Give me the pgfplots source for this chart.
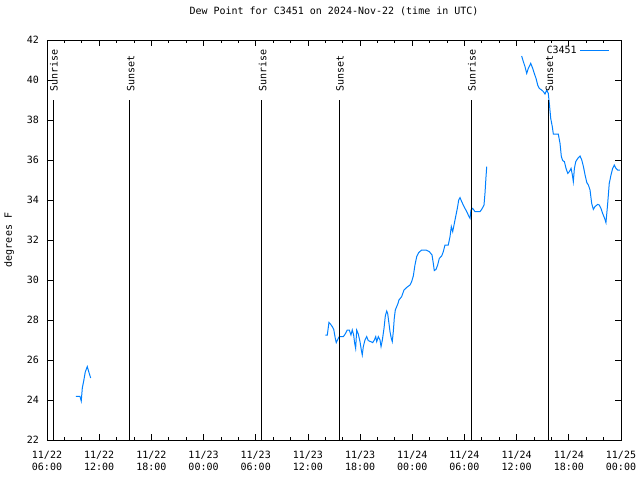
\documentclass[border=0pt]{standalone}
\usepackage{pgfplots}
\pgfplotsset{compat=1.18}
\usepackage{pgfplotstable}
\usepackage{fontspec}
\setmainfont{DejaVu Sans Mono}
\setmonofont{DejaVu Sans Mono}
\definecolor{dewblue}{RGB}{0,128,255}

\pgfplotstableread{
h dp
3.33 24.18
3.79 24.18
3.94 23.95
4.06 24.60
4.22 24.95
4.40 25.40
4.63 25.67
4.83 25.37
5.02 25.10
nan nan
32.00 27.25
32.23 27.25
32.42 27.88
32.62 27.78
32.80 27.67
32.97 27.53
33.15 27.08
33.26 26.87
33.43 27.03
33.61 27.17
34.07 27.17
34.26 27.28
34.53 27.50
34.76 27.50
34.95 27.25
35.10 27.50
35.26 27.25
35.38 26.83
35.49 26.58
35.61 27.50
35.79 27.30
35.99 26.92
36.14 26.50
36.25 26.25
36.37 26.67
36.56 27.00
36.76 27.17
36.94 26.97
37.22 26.92
37.45 26.87
37.64 27.00
37.80 27.17
37.91 26.92
38.10 27.17
38.29 27.00
38.41 26.67
38.56 27.00
38.75 27.58
38.90 28.20
39.06 28.45
39.17 28.33
39.32 27.83
39.44 27.42
39.59 27.08
39.70 26.92
39.82 27.42
39.93 28.08
40.05 28.50
40.21 28.67
40.36 28.83
40.47 29.00
40.78 29.17
41.05 29.50
41.36 29.63
41.74 29.75
41.93 29.92
42.12 30.20
42.31 30.75
42.51 31.17
42.74 31.37
43.08 31.50
43.58 31.50
43.96 31.42
44.27 31.25
44.42 30.83
44.53 30.47
44.73 30.53
44.92 30.75
45.11 31.08
45.38 31.20
45.57 31.42
45.76 31.75
46.14 31.75
46.34 32.17
46.49 32.67
46.65 32.42
46.80 32.75
46.99 33.17
47.18 33.58
47.34 34.00
47.49 34.12
47.68 33.92
47.95 33.67
48.26 33.42
48.44 33.25
48.64 33.08
48.75 33.50
48.95 33.58
49.21 33.42
49.79 33.42
49.98 33.53
50.25 33.75
50.36 34.33
50.48 35.17
50.56 35.67
nan nan
54.58 41.20
54.77 40.92
54.96 40.67
55.16 40.33
55.34 40.58
55.62 40.83
55.85 40.58
56.03 40.33
56.23 40.08
56.42 39.75
56.61 39.58
56.88 39.50
57.07 39.42
57.26 39.30
57.46 39.50
57.64 39.33
57.76 38.83
57.92 38.08
58.10 37.67
58.22 37.30
58.79 37.30
58.99 36.83
59.14 36.17
59.30 35.97
59.49 35.92
59.68 35.58
59.88 35.33
60.06 35.42
60.26 35.58
60.41 35.25
60.52 34.92
60.64 35.58
60.80 35.92
61.03 36.08
61.29 36.20
61.49 36.00
61.68 35.67
61.87 35.25
62.07 34.87
62.25 34.75
62.44 34.50
62.63 33.83
62.82 33.53
63.01 33.67
63.32 33.78
63.50 33.75
63.70 33.58
63.89 33.33
64.12 33.08
64.27 32.87
64.47 33.83
64.65 34.83
64.85 35.25
65.04 35.58
65.23 35.75
65.42 35.58
65.62 35.50
65.88 35.50
}\dewdata

\begin{document}
\begin{tikzpicture}
\useasboundingbox (-35.25pt,-30pt) rectangle (444.75pt,330pt);
\begin{axis}[
  scale only axis,
  width=430.5pt, height=300pt,
  at={(0,0)}, anchor=south west,
  xmin=0, xmax=66, ymin=22, ymax=42,
  xtick={0,6,...,66},
  xticklabels={{11/22\\06:00},{11/22\\12:00},{11/22\\18:00},{11/23\\00:00},{11/23\\06:00},{11/23\\12:00},{11/23\\18:00},{11/24\\00:00},{11/24\\06:00},{11/24\\12:00},{11/24\\18:00},{11/25\\00:00}},
  minor x tick num=2,
  ytick={22,24,...,42},
  tick align=inside,
  major tick length=4.5pt,
  minor tick length=2.5pt,
  every tick/.style={black, line width=0.6pt},
  axis line style={line width=0.6pt},
  /pgf/number format/assume math mode=true,
  tick label style={font=\fontsize{7.5}{9}\selectfont},
  xticklabel style={align=center, yshift=-5pt},
  yticklabel style={xshift=-2.5pt},
  title={Dew Point for C3451 on 2024-Nov-22 (time in UTC)},
  title style={font=\fontsize{7.5}{9}\selectfont, at={(axis description cs:0.5,1.0525)}, anchor=center},
  ylabel={degrees F},
  ylabel style={font=\fontsize{7.5}{9}\selectfont, at={(axis description cs:-0.066,0.5)}, anchor=center, rotate=0},
  unbounded coords=jump,
  legend style={at={(axis description cs:1,0.993)}, xshift=-8.25pt, anchor=north east, draw=none, fill=none,
    font=\fontsize{7.5}{9}\selectfont, legend cell align=right, inner sep=0pt},
  legend plot pos=right,
  legend image code/.code={\draw[#1] (4pt,0pt) -- (26pt,0pt);},
]
\addplot[color=dewblue, line width=0.75pt, no marks] table[x=h, y=dp] {\dewdata};
\addlegendentry{C3451}

\addplot[black, line width=0.75pt, forget plot] coordinates {(0.72,22) (0.72,39)};
\addplot[black, line width=0.75pt, forget plot] coordinates {(9.54,22) (9.54,39)};
\addplot[black, line width=0.75pt, forget plot] coordinates {(24.72,22) (24.72,39)};
\addplot[black, line width=0.75pt, forget plot] coordinates {(33.61,22) (33.61,39)};
\addplot[black, line width=0.75pt, forget plot] coordinates {(48.79,22) (48.79,39)};
\addplot[black, line width=0.75pt, forget plot] coordinates {(57.69,22) (57.69,39)};

\begin{scope}[every node/.style={rotate=90, anchor=west, inner sep=0pt, font=\fontsize{7.5}{9}\selectfont}]
\node at (axis cs:0.80,39.4) {Sunrise};
\node at (axis cs:9.62,39.4) {Sunset};
\node at (axis cs:24.80,39.4) {Sunrise};
\node at (axis cs:33.69,39.4) {Sunset};
\node at (axis cs:48.87,39.4) {Sunrise};
\node at (axis cs:57.77,39.4) {Sunset};
\end{scope}
\end{axis}
\end{tikzpicture}
\end{document}
